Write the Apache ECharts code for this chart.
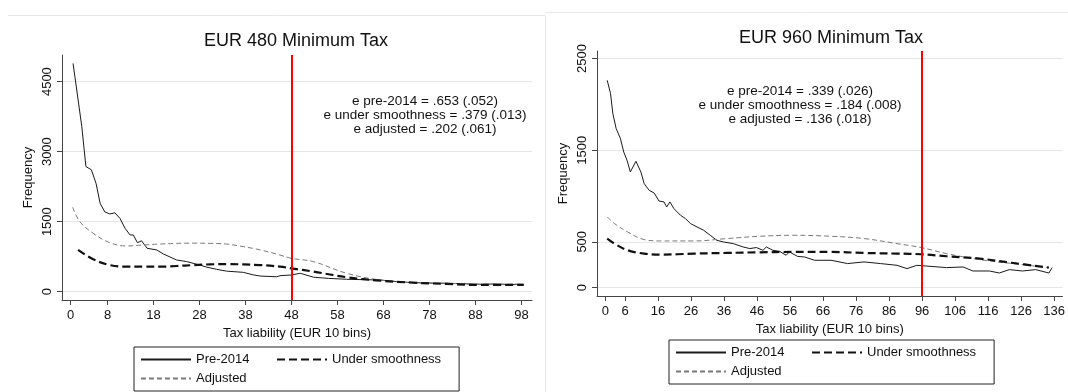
<!DOCTYPE html>
<html>
<head>
<meta charset="utf-8">
<script src="https://cdn.jsdelivr.net/npm/echarts@6/dist/echarts.min.js"></script>
<style>
  html, body { margin: 0; padding: 0; background: #fff; }
  #chart { width: 1068px; height: 392px; }
</style>
</head>
<body>
<div id="chart"></div>
<script>
// ---------- Data ----------
const seriesNames = ['Pre-2014', 'Under smoothness', 'Adjusted'];
const panelTitles = ['EUR 480 Minimum Tax', 'EUR 960 Minimum Tax'];
const thresholds = [48, 96];

// Panel 1 (EUR 480)
const p1TickX = [0, 8, 18, 28, 38, 48, 58, 68, 78, 88, 98];
const p1TickY = [0, 1500, 3000, 4500];
const p1PreX = [0.5, 1.1, 2.4, 3.3, 4.5, 5.5, 6.4, 7.4, 8.5, 9.6, 10.7, 11.8, 12.9, 13.6, 14.5, 15.4, 16.6, 18.7, 20.1, 23.0, 25.2, 28.1, 29.6, 31.7, 33.9, 37.5, 39.7, 41.2, 44.8, 45.5, 48, 49.9, 52.8, 56, 60, 63.5, 67.3, 71, 74.5, 78, 81.8, 85.5, 89, 92, 95, 98.5];
const p1PreY = [4890, 4470, 3540, 2680, 2610, 2320, 1890, 1710, 1665, 1690, 1570, 1360, 1215, 1215, 1050, 1090, 930, 895, 810, 680, 645, 570, 525, 480, 440, 415, 360, 335, 320, 343, 358, 394, 310, 285, 266, 258, 250, 215, 193, 186, 180, 170, 159, 165, 155, 159];
const p1UsX = [1.6, 4.9, 8.5, 12.2, 15.8, 19.4, 23.0, 26.7, 30.3, 33.9, 41.2, 45.5, 48, 52.8, 60, 67.3, 74.5, 81.8, 89, 98.5];
const p1UsY = [895, 695, 570, 535, 535, 535, 550, 570, 585, 590, 570, 536, 500, 430, 310, 236, 193, 166, 145, 145];
const p1AdjX = [0.4, 2.0, 4.9, 8.5, 12.2, 15.8, 19.4, 23.0, 26.7, 30.3, 33.9, 37.5, 41.2, 45.5, 48, 52.8, 60, 67.3, 74.5, 81.8, 89, 98.5];
const p1AdjY = [1810, 1500, 1250, 1050, 980, 1000, 1020, 1035, 1040, 1035, 1020, 965, 895, 786, 715, 643, 394, 250, 193, 180, 160, 160];
const p1Note = ['e pre-2014 = .653 (.052)', 'e under smoothness = .379 (.013)', 'e adjusted = .202 (.061)'];

// Panel 2 (EUR 960)
const p2TickX = [0, 6, 16, 26, 36, 46, 56, 66, 76, 86, 96, 106, 116, 126, 136];
const p2TickY = [0, 500, 1500, 2500];
const p2PreX = [0.6, 1.6, 2.3, 3.3, 4.6, 5.6, 6.6, 7.6, 9.3, 10.8, 11.8, 13.3, 14.8, 16.3, 17.8, 18.6, 19.6, 20.8, 22.8, 24.3, 25.8, 27.8, 29.8, 31.8, 33.8, 35.8, 38.8, 41.8, 43.8, 45.8, 47.8, 48.8, 50.8, 52.8, 54.8, 55.8, 58.3, 60.4, 63.4, 68.4, 73.4, 78.4, 83.4, 88.4, 91.4, 94.4, 98.4, 103.4, 108.4, 111.4, 116.4, 119.4, 122.4, 126.4, 130.4, 134.4, 135.4];
const p2PreY = [2263, 2118, 1900, 1736, 1627, 1480, 1390, 1262, 1379, 1262, 1135, 1062, 1033, 945, 935, 880, 935, 862, 789, 753, 699, 662, 626, 571, 516, 498, 480, 443, 426, 437, 407, 443, 407, 396, 353, 389, 340, 334, 298, 298, 262, 280, 262, 243, 207, 243, 232, 218, 225, 181, 181, 159, 196, 181, 196, 159, 218];
const p2UsX = [0.6, 2.8, 6.8, 11.8, 16.8, 21.8, 26.8, 36.8, 46.8, 56.8, 68.4, 78.4, 88.4, 95.7, 103.4, 113.4, 123.4, 134.4];
const p2UsY = [535, 480, 407, 371, 360, 364, 371, 378, 385, 389, 389, 378, 371, 364, 342, 316, 269, 218];
const p2AdjX = [0.6, 2.8, 6.8, 11.8, 16.8, 26.8, 36.8, 46.8, 56.8, 68.4, 78.4, 88.4, 95.7, 103.4, 113.4, 123.4, 134.4];
const p2AdjY = [771, 699, 607, 524, 509, 509, 535, 560, 571, 560, 535, 480, 437, 371, 306, 262, 218];
const p2Note = ['e pre-2014 = .339 (.026)', 'e under smoothness = .184 (.008)', 'e adjusted = .136 (.018)'];

// ---------- Build ----------
const FONT = "'Liberation Sans', Arial, sans-serif";
const zip = (xs, ys) => xs.map((x, i) => [x, ys[i]]);

const lineStyles = {
  'Pre-2014': { color: '#1a1a1a', width: 1, type: 'solid' },
  'Under smoothness': { color: '#111', width: 2.2, type: [8, 4] },
  'Adjusted': { color: '#7a7a7a', width: 1, type: [5, 3] }
};

function mkSeries(name, idx, data, smooth, markX) {
  const s = {
    name: name, type: 'line', xAxisIndex: idx, yAxisIndex: idx,
    data: data, symbol: 'none', smooth: smooth,
    lineStyle: lineStyles[name], itemStyle: { color: lineStyles[name].color },
    z: name === 'Pre-2014' ? 3 : 4,
    animation: false
  };
  if (markX !== undefined) {
    s.markLine = {
      silent: true, symbol: 'none', animation: false,
      label: { show: false },
      lineStyle: { color: '#ff0000', width: 2, type: 'solid' },
      data: [{ xAxis: markX }]
    };
  }
  return s;
}

const plain = v => String(v);

function mkX(idx, min, max, ticks) {
  return {
    type: 'value', gridIndex: idx, min: min, max: max,
    name: 'Tax liability (EUR 10 bins)', nameLocation: 'middle', nameGap: 24,
    nameTextStyle: { fontFamily: FONT, fontSize: 13, color: '#111' },
    axisLine: { show: true, onZero: false, lineStyle: { color: '#444', width: 1 } },
    axisTick: { show: true, length: 5, lineStyle: { color: '#444' }, customValues: ticks },
    axisLabel: { fontFamily: FONT, fontSize: 13, color: '#111', margin: 9, customValues: ticks, formatter: plain },
    splitLine: { show: false }
  };
}
function mkY(idx, min, max, ticks) {
  return {
    type: 'value', gridIndex: idx, min: min, max: max,
    name: 'Frequency', nameLocation: 'middle', nameGap: 27, nameRotate: 90,
    nameTextStyle: { fontFamily: FONT, fontSize: 13, color: '#111' },
    axisLine: { show: true, onZero: false, lineStyle: { color: '#444', width: 1 } },
    axisTick: { show: true, length: 5, lineStyle: { color: '#444' }, customValues: ticks },
    axisLabel: { fontFamily: FONT, fontSize: 13, color: '#111', margin: 8, rotate: 90, customValues: ticks, formatter: plain },
    splitLine: { show: true, lineStyle: { color: '#e6e6e6', width: 1 } }
  };
}

function mkLegend(left, top) {
  return {
    left: left, top: top, orient: 'horizontal', width: 310,
    padding: [6, 18, 6, 6], itemGap: 6, itemWidth: 50, itemHeight: 12,
    borderColor: '#222', borderWidth: 1, borderRadius: 0,
    selectedMode: false,
    itemStyle: { opacity: 0 },
    textStyle: { fontFamily: FONT, fontSize: 13, color: '#111', lineHeight: 13 },
    data: [
      { name: 'Pre-2014', textStyle: { width: 74 } },
      { name: 'Under smoothness' },
      { name: 'Adjusted' }
    ]
  };
}

function textEl(x, y, str, size, lh) {
  return {
    type: 'text', silent: true,
    style: { x: x, y: y, text: str, align: 'center', verticalAlign: 'top',
             fontFamily: FONT, fontSize: size, lineHeight: lh, fill: '#111' }
  };
}

const option = {
  backgroundColor: '#fff',
  animation: false,
  grid: [
    { left: 62, top: 55, right: 1068 - 532, bottom: 392 - 300 },
    { left: 597, top: 51, right: 1, bottom: 392 - 296 }
  ],
  xAxis: [mkX(0, -1.9, 100.3, p1TickX), mkX(1, -2.5, 138.5, p2TickX)],
  yAxis: [mkY(0, -178, 5070, p1TickY), mkY(1, -92, 2583, p2TickY)],
  legend: [mkLegend(134, 347), mkLegend(669, 340)],
  series: [
    mkSeries('Pre-2014', 0, zip(p1PreX, p1PreY), false, thresholds[0]),
    mkSeries('Adjusted', 0, zip(p1AdjX, p1AdjY), 0.4),
    mkSeries('Under smoothness', 0, zip(p1UsX, p1UsY), 0.4),
    mkSeries('Pre-2014', 1, zip(p2PreX, p2PreY), false, thresholds[1]),
    mkSeries('Adjusted', 1, zip(p2AdjX, p2AdjY), 0.4),
    mkSeries('Under smoothness', 1, zip(p2UsX, p2UsY), 0.4)
  ],
  graphic: [
    { type: 'line', silent: true, shape: { x1: 8, y1: 15.5, x2: 545.5, y2: 15.5 }, style: { stroke: '#e8e8e8', lineWidth: 1 } },
    { type: 'line', silent: true, shape: { x1: 545.5, y1: 15.5, x2: 545.5, y2: 392 }, style: { stroke: '#e8e8e8', lineWidth: 1 } },
    { type: 'line', silent: true, shape: { x1: 545.5, y1: 12.5, x2: 1068, y2: 12.5 }, style: { stroke: '#e8e8e8', lineWidth: 1 } },
    textEl(296, 32, panelTitles[0], 18, 18),
    textEl(831, 29, panelTitles[1], 18, 18),
    textEl(425, 94.5, p1Note.join('\n'), 13.5, 14),
    textEl(800, 84.5, p2Note.join('\n'), 13.5, 14)
  ]
};

const chart = echarts.init(document.getElementById('chart'), null, { renderer: 'canvas' });
chart.setOption(option);
</script>
</body>
</html>
